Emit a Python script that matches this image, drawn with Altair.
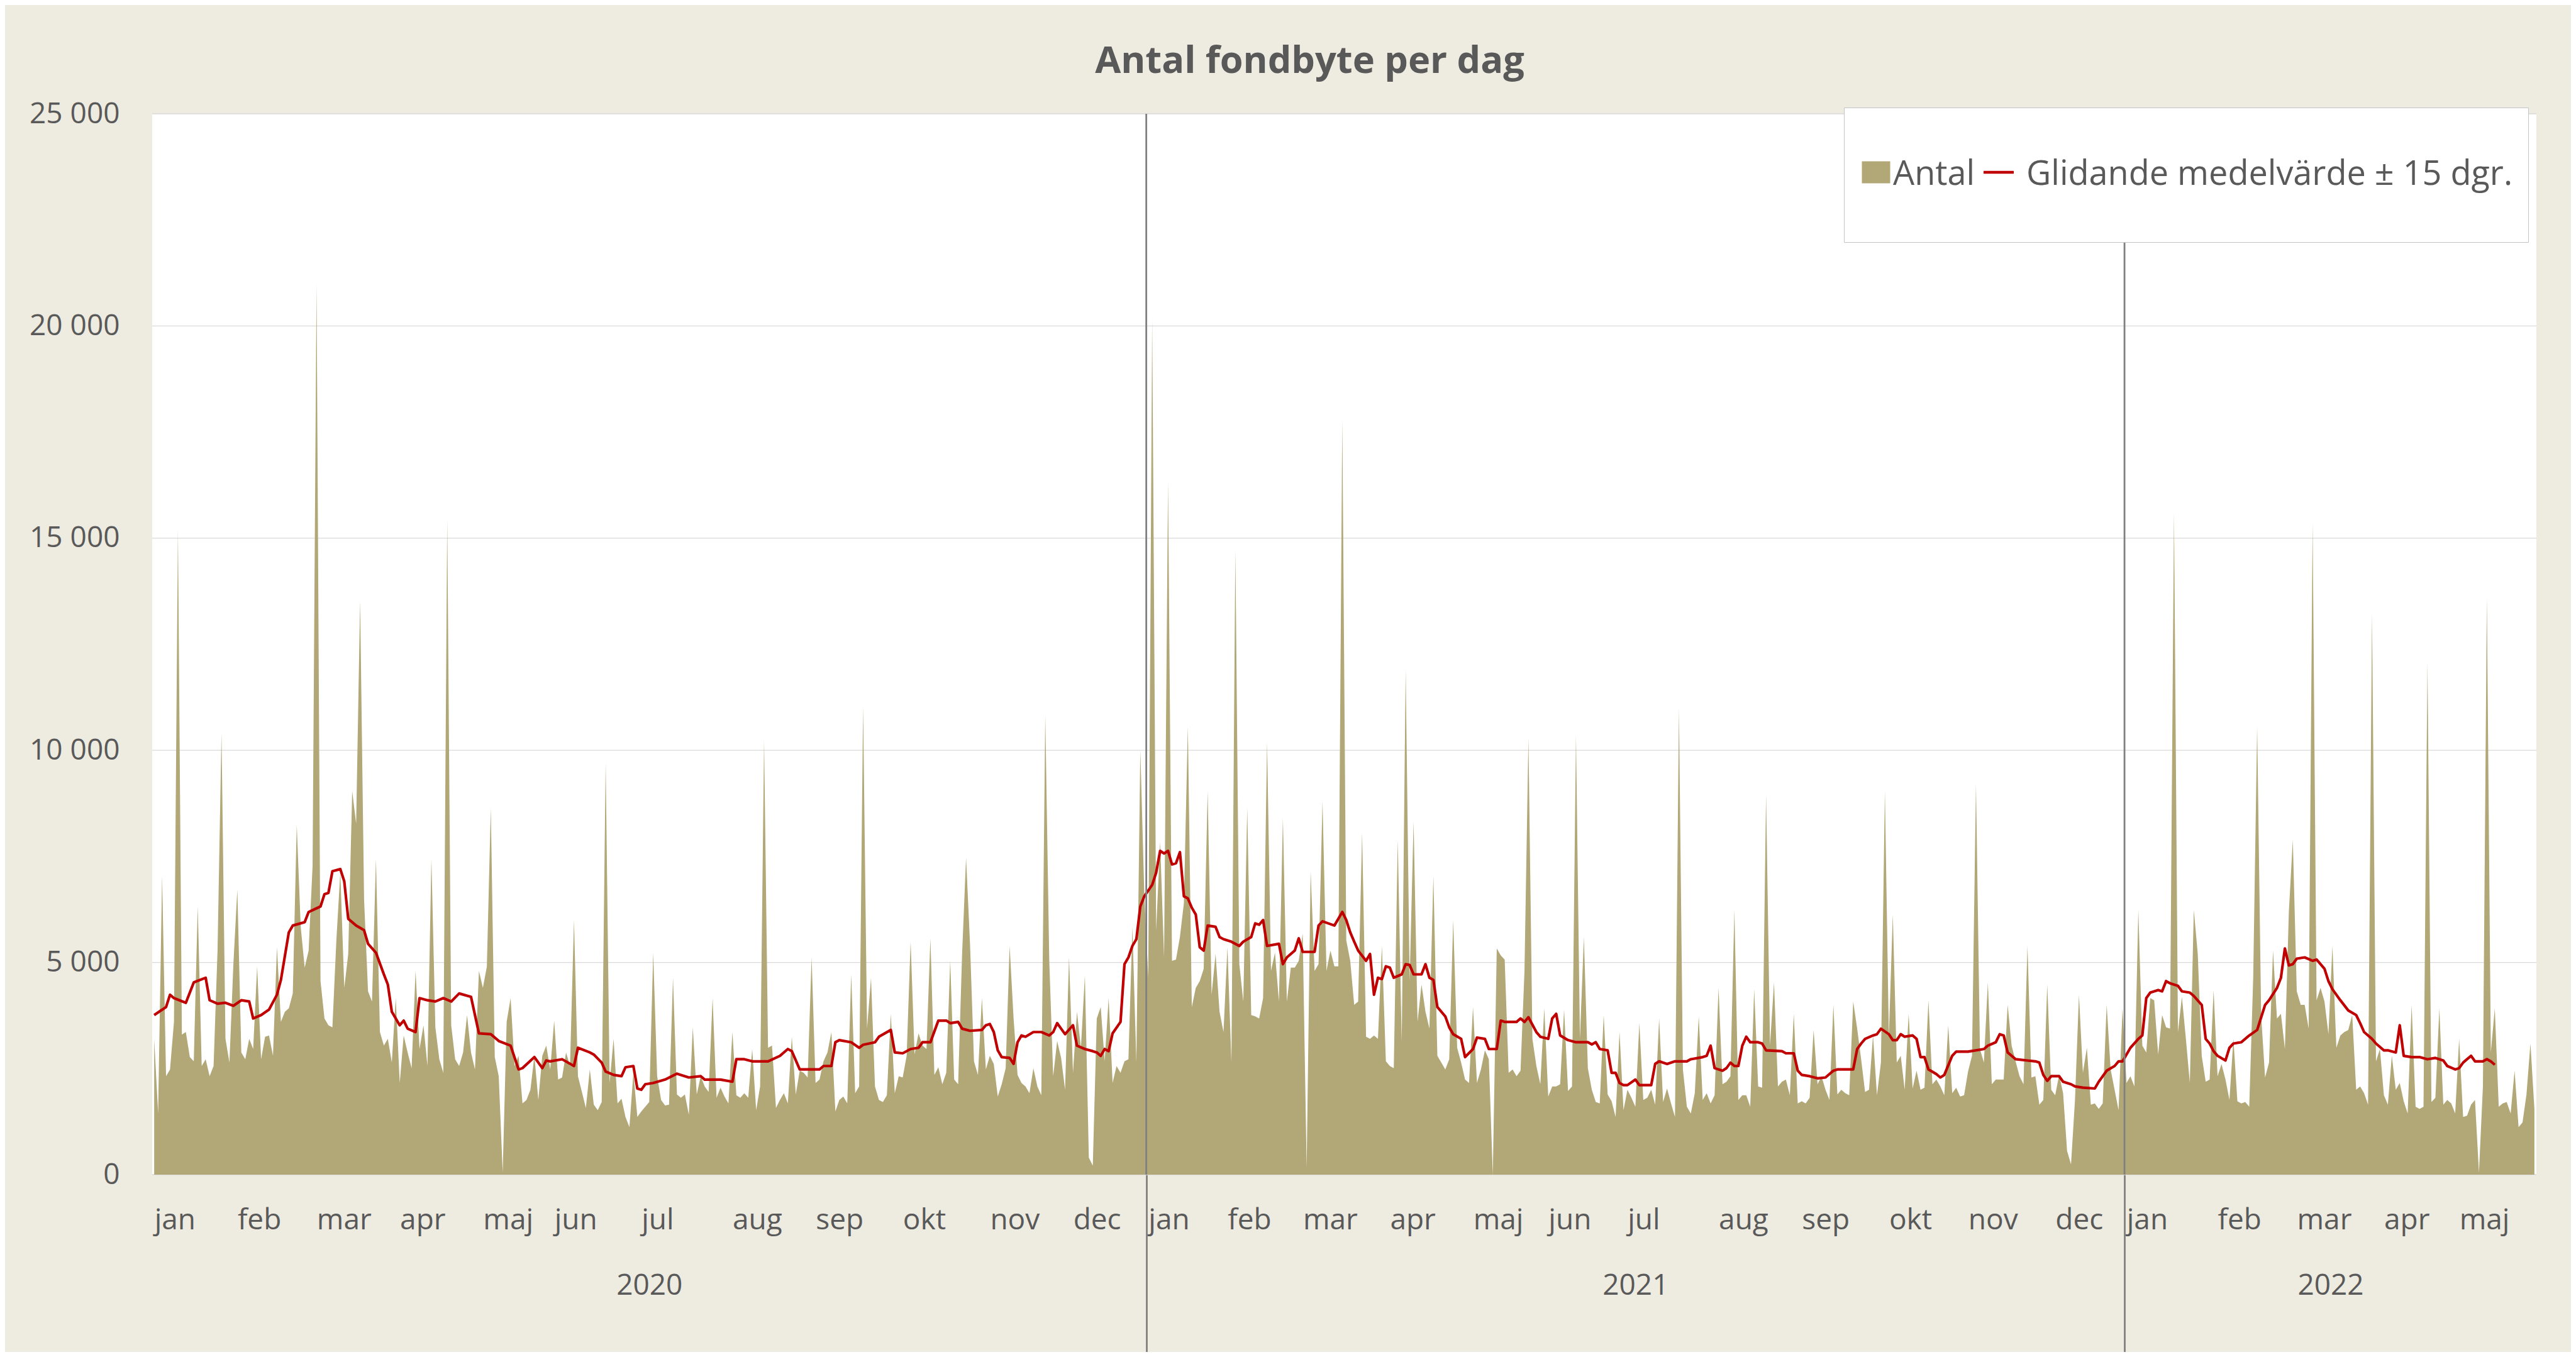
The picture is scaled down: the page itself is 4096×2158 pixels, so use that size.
import altair as alt
import pandas as pd

# ---------------- data ----------------
antal_2020 = [
    3200, 1440, 7040, 2320, 2480, 3600, 15200, 3300, 3360, 2770,
    2670, 6320, 2560, 2720, 2320, 2560, 5280, 10400, 3200, 2640,
    4960, 6720, 2880, 2720, 3200, 2960, 4910, 2720, 3250, 3280,
    2800, 5360, 3600, 3840, 3920, 4270, 8240, 5840, 4880, 5280,
    7280, 21000, 4560, 3680, 3520, 3470, 5520, 7120, 4400, 5200,
    9040, 8270, 13520, 6480, 4320, 4080, 7440, 3360, 3040, 3200,
    2640, 4160, 2160, 3280, 2880, 2510, 4800, 2960, 3520, 2560,
    7440, 3470, 2720, 2400, 15440, 3520, 2720, 2560, 2880, 3760,
    2880, 2480, 4800, 4400, 4900, 8640, 2770, 2320, 50, 3600,
    4160, 2560, 2800, 1680, 1760, 2000, 2800, 1760, 2800, 3040,
    2480,
    3630, 2240, 2290, 2880, 2560, 6000, 2320, 1950, 1570, 2480,
    1650, 1520, 1710, 9710, 2160, 3200, 1680, 1790, 1360, 1120,
    2400, 1360, 1490, 1600, 1710, 5230, 2320, 1760, 1630, 1650,
    4640, 1890, 1810, 1890, 1410, 3470, 1890, 2320, 2080, 1950,
    4160, 1810, 2050, 1840, 1680, 3360, 1870, 1810, 1920, 1810,
    2960, 1520, 2080, 10240, 2990, 3040, 1570, 1760, 1920, 1680,
    3250, 1890, 2450, 2400, 2290, 5120, 2160, 2240, 2670, 2880,
    3360, 1490, 1760, 1840, 1680, 4720, 1920, 2080, 11040, 3440,
    4640, 2080, 1760, 1710, 1870, 3790, 1920, 2320, 2290, 2800,
    5490, 2830, 3330, 3040, 2960, 5570, 2350, 2530, 2130, 2400,
    5040, 2240, 2130, 5200, 7470, 5440, 2670, 2350, 4160, 2480,
    2800, 2610, 1840, 2130, 2510, 5390, 3680, 2350, 2160, 2080,
    1920, 2510, 2080, 1870, 10830, 5070, 2320, 3150, 2750, 2000,
    5120, 2400, 3840, 2990, 4690, 400, 210, 3680, 3950, 2670,
    4160, 2160, 2560, 2400, 2670, 2720, 5840, 2640, 10000, 6640,
]

antal_2021 = [
    4640, 20160, 5760, 7840, 5120, 16320, 5040, 5070, 5600, 6400,
    10560, 3950, 4400, 4560, 4850, 9040, 4240, 5200, 3840, 3360,
    5360, 2640, 14720, 4960, 4080, 8640, 3760, 3730, 3680, 4160,
    10190, 4800, 5230, 4080, 8400, 4080, 4880, 4880, 5040, 5680,
    160, 7150, 4800, 4960, 8800, 4800, 5280, 4910, 4910, 17800,
    5520, 5040, 4000, 4080, 8050, 3250, 3200, 3280, 3200, 5390,
    2670, 2560, 2510, 7890, 3120, 11900, 4560, 8320, 3600, 4480,
    3840, 3440, 7040, 2800, 2640, 2480, 2720, 6000, 2990, 2640,
    2240, 2160, 3950, 2160, 2480, 2930, 2720, 0, 5330, 5170,
    5070, 2400, 2480, 2320, 2450, 4800, 10290, 3200, 2560, 2130,
    3920, 1840, 2080, 2080, 2130, 3890, 1970, 2080, 10350, 3200,
    5600, 2510, 2000, 1710, 1680, 3760, 1890, 1730, 1360, 3360,
    1520, 2000, 1810, 1600, 3570, 1760, 1810, 2000, 1650, 3680,
    1710, 2030, 1680, 1360, 10990, 2480, 1600, 1440, 1920, 3730,
    1760, 1920, 1680, 1870, 4400, 2130, 2190, 2320, 6240, 1760,
    1870,
    1870, 1600, 4370, 2080, 2050, 8960, 3040, 4530, 2080, 2190,
    2240, 1870, 3790, 1680, 1730, 1680, 1810, 3410, 2130, 2320,
    2000, 1760, 4000, 1890, 2000, 1920, 1870, 4080, 3440, 2720,
    1950, 2000, 3280, 1870, 2640, 9040, 3250, 6130, 2640, 2800,
    2000, 3790, 2030, 2450, 2000, 2050, 4110, 2130, 2240, 2080,
    1870, 3520, 1920, 2050, 1840, 1870, 2430, 2800, 9200, 2960,
    2640, 4530, 2130, 2240, 2240, 2240, 4000, 3040, 2670, 2320,
    2130, 5390, 2290, 2320, 1650, 1760, 4480, 2000, 1870, 2350,
    1920, 560, 240, 1760, 4240, 2400, 2990, 1650, 1680, 1550,
    1680, 4000, 2480, 2000, 1520, 3920,
]

antal_2022 = [
    2160, 2320, 2080, 6240,
    3040, 2880, 4160, 4110, 2830, 3760, 3470, 3440, 15600, 3360,
    4190, 3200, 2160, 6240, 5200, 2800, 2190, 2240, 4350, 2320,
    2610, 2240, 1760, 3200, 1730, 1680, 1710, 1600, 4640, 10560,
    3760, 2290, 2640, 5280, 3680, 3790, 2960, 6190, 7890, 4320,
    4000, 4000, 3440, 15360, 4110, 4400, 4080, 3310, 5390, 2990,
    3280, 3360, 3410, 3760, 2000, 2080, 1920, 1650, 13230, 2670,
    2960, 1870, 1650, 2800, 2000, 2160, 1730, 1440, 4000, 1600,
    1550, 1600, 12080, 1710, 1810, 3920, 1650, 1760, 1680, 1440,
    3200, 1360, 1390, 1650, 1760, 50, 2080, 13600, 2880, 3920,
    1600, 1680, 1710, 1440, 2450, 1120, 1230, 1890, 3090, 1550,
]

# moving average (red line), read at its corners: day number and value
ma_day = [
    0, 3, 4, 5, 8, 10, 13, 14, 16, 18, 20, 22, 24, 25, 27, 29, 31, 32, 34, 35,
    38, 39, 42, 43, 44, 45, 47, 48, 49, 51, 53, 54, 56, 58, 59, 60, 62, 63, 64, 66,
    67, 69, 71, 73, 75, 77, 80, 82, 85, 87, 90, 92, 93, 96, 98, 99, 100,
    103, 106, 107, 110, 111, 113, 114, 116, 118, 119, 121, 122, 123, 124, 126, 129, 132, 135, 138,
    139, 143, 146, 147, 149, 151, 155, 158, 160, 161, 163, 168, 169, 171, 172, 173, 176, 178, 179, 182,
    183, 186, 187, 189, 191, 193, 194, 196, 198, 200,
    201, 203, 204, 206, 209, 210, 211, 212, 213, 214, 216, 217, 218, 219, 220, 222, 224, 226, 227, 228,
    229, 230, 232, 233, 235, 237, 238, 239, 240, 241, 242, 244, 245, 246, 247, 248, 249, 250, 252, 253,
    254, 255, 256, 257, 258, 259, 260, 261, 262, 263, 264, 265, 266, 268, 269, 270, 272, 274, 275, 277,
    278, 279, 280, 281, 284, 285, 286, 288, 289, 290, 293, 294, 295, 298, 300, 301,
    302, 303, 304, 306, 307, 308, 309, 310, 311, 312, 313, 315, 316, 317, 318, 320, 321, 322, 323, 324,
    326, 327, 328, 330, 331, 333, 334, 336, 337, 339, 340, 341, 344, 345, 346, 347, 349, 350, 352, 353,
    354, 355, 357, 359, 362, 363, 364, 365, 367, 368, 369, 370, 371, 372, 374, 375, 378, 379, 380, 382,
    384, 387, 388, 391, 392, 393, 394, 396, 397, 398, 399, 400, 401,
    402, 403, 405, 406, 407, 411, 412, 414, 415, 416, 418, 420, 422, 424, 425, 429, 430, 431, 432, 434,
    435, 436, 438, 439, 440, 441, 442, 444, 445, 446, 447, 448, 450, 451, 452, 454, 455, 458, 462, 463,
    465, 466, 467, 468, 470, 473, 475, 476, 477, 478, 479, 481, 482, 484, 485, 487, 490, 491, 493, 495,
    496, 497, 499, 501,
    502, 503, 504, 506, 507, 508, 509, 511, 512, 514, 515, 517, 518, 519, 520, 521, 523, 524, 525, 527,
    529, 531, 533, 534, 536, 537, 538, 539, 540, 541, 543, 545, 546, 548, 549, 550, 552, 554, 556, 557,
    558, 560, 561, 563, 564, 566, 567, 568, 570, 572, 574, 576, 578, 579, 581, 582, 583, 584, 585, 586,
    588, 589, 590, 591,
]
ma_value = [
    3760, 3950, 4240, 4160, 4050, 4530, 4640, 4110, 4030, 4050, 3980, 4110, 4080, 3680, 3760, 3890, 4240, 4590, 5710, 5870,
    5950, 6190, 6320, 6610, 6640, 7150, 7200, 6910, 6030, 5870, 5760, 5440, 5230, 4720, 4480, 3840, 3520, 3630, 3440, 3360,
    4160, 4110, 4080, 4160, 4080, 4270, 4190, 3330, 3310, 3150, 3040, 2480, 2510, 2770, 2510, 2690, 2670,
    2720, 2560, 2990, 2880, 2830, 2640, 2430, 2350, 2320, 2530, 2560, 2030, 2000, 2130, 2160, 2240, 2380, 2290, 2320,
    2240, 2240, 2190, 2720, 2720, 2670, 2670, 2800, 2960, 2910, 2480, 2480, 2560, 2560, 3120, 3170, 3120, 2990, 3060, 3120,
    3250, 3410, 2880, 2860, 2960, 2990, 3120, 3120, 3630, 3630,
    3570, 3600, 3440, 3390, 3410, 3520, 3550, 3360, 2930, 2770, 2750, 2610, 3120, 3280, 3250, 3360, 3360, 3280, 3360, 3570,
    3440, 3310, 3520, 3040, 2960, 2910, 2880, 2800, 2960, 2910, 3330, 3600, 4960, 5120, 5390, 5550, 6320, 6560, 6830, 7120,
    7630, 7570, 7630, 7310, 7340, 7600, 6560, 6510, 6290, 6130, 5360, 5280, 5870, 5840, 5600, 5550, 5490, 5390, 5490, 5600,
    5920, 5890, 6000, 5390, 5440, 4960, 5120, 5280, 5570, 5250, 5250, 5870, 5970, 5870, 6190, 6000,
    5710, 5490, 5280, 5040, 5200, 4240, 4640, 4610, 4910, 4880, 4640, 4720, 4960, 4940, 4720, 4720, 4960, 4640, 4590, 3950,
    3730, 3470, 3310, 3200, 2770, 2960, 3230, 3200, 2960, 2960, 3630, 3600, 3600, 3680, 3600, 3710, 3360, 3250, 3200, 3680,
    3790, 3280, 3170, 3120, 3120, 3070, 3120, 2960, 2930, 2400, 2400, 2160, 2110, 2110, 2240, 2110, 2110, 2610, 2670, 2610,
    2670, 2670, 2720, 2770, 2800, 3040, 2510, 2450, 2510, 2640, 2560, 2560, 3040,
    3250, 3120, 3120, 3090, 2930, 2910, 2860, 2860, 2450, 2350, 2320, 2270, 2290, 2450, 2480, 2480, 2960, 3090, 3200, 3280,
    3310, 3440, 3310, 3170, 3170, 3310, 3250, 3280, 3200, 2770, 2770, 2480, 2370, 2290, 2350, 2800, 2900, 2900, 2960, 3040,
    3120, 3310, 3280, 2880, 2720, 2690, 2670, 2640, 2350, 2210, 2320, 2320, 2190, 2130, 2080, 2050, 2030, 2190, 2450, 2560,
    2670, 2670, 2990, 3200,
    3280, 4160, 4290, 4350, 4320, 4560, 4510, 4450, 4320, 4290, 4210, 4000, 3200, 3090, 2910, 2800, 2690, 2990, 3090, 3120,
    3280, 3410, 4000, 4110, 4400, 4640, 5330, 4930, 4960, 5090, 5120, 5040, 5070, 4850, 4560, 4370, 4110, 3870, 3760, 3570,
    3360, 3200, 3090, 2930, 2930, 2880, 3520, 2800, 2770, 2770, 2720, 2750, 2690, 2560, 2480, 2510, 2640, 2720, 2800, 2670,
    2670, 2720, 2670, 2590,
]

year_names = ["2020", "2021", "2022"]
month_names = ["jan", "feb", "mar", "apr", "maj", "jun", "jul", "aug", "sep", "okt", "nov", "dec"]
days_2020 = [21, 20, 21, 21, 18, 22, 23, 21, 22, 22, 21, 19]
days_2021 = [20, 19, 22, 21, 19, 20, 23, 21, 22, 20, 22, 18]
days_2022 = [23, 20, 22, 19, 20]
series_names = ["Antal", "Glidande medelvärde ± 15 dgr."]
y_ticks = [0, 5000, 10000, 15000, 20000, 25000]

# ---------------- styling ----------------
KHAKI = "#B2A776"
RED = "#C00000"
TEXT = "#595959"
BEIGE = "#EEEBE0"
GRID = "#D9D9D9"
SEP = "#808080"
FONT = "Open Sans"

# ---------------- derived tables ----------------
antal = antal_2020 + antal_2021 + antal_2022
n_days = len(antal)

month_start, month_label = [], []
year_start, year_end = [], []
pos = 0
for days in (days_2020, days_2021, days_2022):
    year_start.append(pos)
    for name, d in zip(month_names, days):
        month_start.append(pos)
        month_label.append(name)
        pos += d
    year_end.append(pos)

year_bounds = [s - 0.5 for s in year_start[1:]]
year_center = [(s + e - 1) / 2 for s, e in zip(year_start, year_end)]


def js_list(items, quote=False):
    if quote:
        return "[" + ",".join("'" + str(i) + "'" for i in items) + "]"
    return "[" + ",".join(str(i) for i in items) + "]"


month_expr = f"{js_list(month_label, True)}[indexof({js_list(month_start)}, datum.value)]"
year_expr = f"{js_list(year_names, True)}[indexof({js_list(year_center)}, datum.value)]"

x_domain = [-0.5, n_days - 0.5]
y_domain = [0, 25000]

df = pd.DataFrame({"dag": list(range(n_days)), "antal": antal})
ma_df = pd.DataFrame({"dag": ma_day, "medel": ma_value})
bound_df = pd.DataFrame({"grans": year_bounds})
legend_df = pd.DataFrame({"serie": series_names})
grid_df = pd.DataFrame({"v": y_ticks})
frame_df = pd.DataFrame({"x0": [x_domain[0]], "x1": [x_domain[1]], "y0": [y_domain[0]], "y1": [y_domain[1]]})

W, H = 3791, 1687
x_scale = alt.Scale(domain=x_domain, nice=False, zero=False)
y_scale = alt.Scale(domain=y_domain, nice=False, zero=True)

month_axis = alt.Axis(
    values=month_start, labelExpr=month_expr, orient="bottom", title=None,
    grid=False, ticks=False, domain=False, labelAlign="left", labelOffset=0,
    labelBaseline="alphabetic", labelPadding=86, labelOverlap=False,
    labelFlush=False, labelBound=False, labelFont=FONT, labelFontSize=46,
    labelColor=TEXT,
)
year_axis = alt.Axis(
    values=year_center, labelExpr=year_expr, orient="bottom", title=None,
    grid=False, ticks=False, domain=False, labelAlign="center",
    labelBaseline="alphabetic", labelPadding=190, labelOverlap=False,
    labelFlush=False, labelBound=False, labelFont=FONT, labelFontSize=46,
    labelColor=TEXT,
)
bound_axis = alt.Axis(
    values=year_bounds, orient="bottom", title=None, grid=False, labels=False,
    domain=False, ticks=True, tickSize=282, tickColor=SEP, tickWidth=2.8,
)


def y_axis():
    return alt.Axis(
        values=y_ticks, labelExpr="replace(format(datum.value, ',d'), ',', ' ')",
        title=None, grid=False, ticks=False, domain=False, labelPadding=52,
        labelFont=FONT, labelFontSize=46, labelColor=TEXT, orient="left",
    )


frame = alt.Chart(frame_df).mark_rect(color="#FFFFFF").encode(
    x=alt.X("x0:Q", scale=x_scale, axis=None),
    x2="x1:Q",
    y=alt.Y("y0:Q", scale=y_scale, axis=y_axis()),
    y2="y1:Q",
)

grid = alt.Chart(grid_df).mark_rule(color=GRID, strokeWidth=1.3).encode(
    y=alt.Y("v:Q", scale=y_scale, axis=y_axis()),
)

area = alt.Chart(df).mark_area(color=KHAKI, interpolate="linear", opacity=1).encode(
    x=alt.X("dag:Q", scale=x_scale, axis=month_axis),
    y=alt.Y("antal:Q", scale=y_scale, axis=y_axis()),
)

line = alt.Chart(ma_df).mark_line(color=RED, strokeWidth=4.2, strokeJoin="round").encode(
    x=alt.X("dag:Q", scale=x_scale, axis=year_axis),
    y=alt.Y("medel:Q", scale=y_scale, axis=y_axis()),
)

rule = alt.Chart(bound_df).mark_rule(color=SEP, strokeWidth=2.8).encode(
    x=alt.X("grans:Q", scale=x_scale, axis=bound_axis),
)

rect_path = "M-1.157,2.099H1.157V3.841H-1.157Z"
dash_path = "M-2.343,2.97H0.4"
legend_def = alt.Legend(
    title=None, orient="none", legendX=2690, legendY=-10, direction="horizontal",
    gridAlign="none", fillColor="#FFFFFF", strokeColor="#C4C4C4", padding=24,
    symbolSize=35 * 35, symbolStrokeWidth=4.5, symbolOpacity=1, labelFont=FONT,
    labelFontSize=54, labelColor=TEXT, labelOffset=0, labelLimit=2000,
    columnPadding=3, labelExpr="['', datum.label, '']", zindex=2,
)
legend_layer = alt.Chart(legend_df).transform_filter("false").mark_point(
    filled=True, opacity=1
).encode(
    fill=alt.Fill("serie:N", scale=alt.Scale(domain=series_names, range=[KHAKI, RED]), legend=legend_def),
    stroke=alt.Stroke("serie:N", scale=alt.Scale(domain=series_names, range=[KHAKI, RED]), legend=legend_def),
    shape=alt.Shape("serie:N", scale=alt.Scale(domain=series_names, range=[rect_path, dash_path]), legend=legend_def),
)

chart = (
    alt.layer(frame, grid, area, line, rule, legend_layer)
    .resolve_axis(x="independent")
    .properties(
        width=W, height=H,
        autosize=alt.AutoSizeParams(type="none"),
        padding={"left": 234, "top": 173, "right": 55, "bottom": 282},
        background=BEIGE,
        title=alt.TitleParams(
            "Antal fondbyte per dag", anchor="middle", frame="group", dx=-55,
            offset=-17, baseline="alphabetic", font=FONT, fontSize=59.5,
            fontWeight="bold", color=TEXT,
        ),
    )
    .configure_view(stroke=None)
)

chart.save("out.html", embed_options={"renderer": "svg", "actions": False})
